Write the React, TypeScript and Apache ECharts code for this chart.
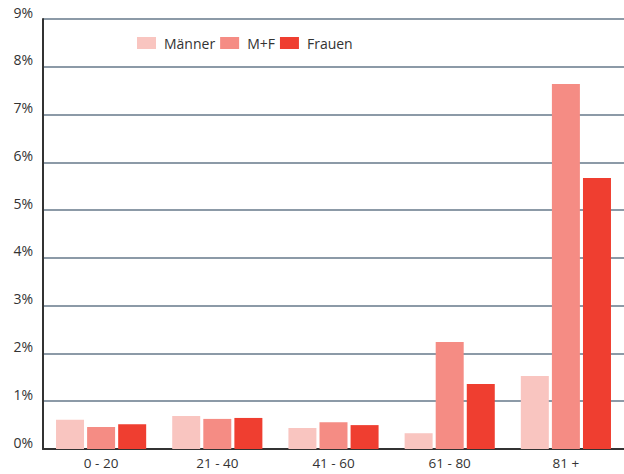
import React, { useEffect, useRef } from "react";
import * as echarts from "echarts";

const categories = ["0 - 20", "21 - 40", "41 - 60", "61 - 80", "81 +"];
const maenner = [0.61, 0.69, 0.44, 0.33, 1.53];
const mf = [0.46, 0.63, 0.56, 2.24, 7.64];
const frauen = [0.52, 0.65, 0.5, 1.36, 5.67];
const seriesNames = ["Männer", "M+F", "Frauen"];
const colors = ["#f9c5c0", "#f58c84", "#ef3e30"];

export default function App() {
  const ref = useRef<HTMLDivElement>(null);
  useEffect(() => {
    const chart = echarts.init(ref.current!, null, { renderer: "svg" });
    const font = "'Open Sans', 'Noto Sans', sans-serif";
    const data = [maenner, mf, frauen];
    chart.setOption({
      animation: false,
      textStyle: { fontFamily: font },
      grid: { left: 43, right: 0, top: 19, bottom: 25 },
      legend: {
        left: 132,
        top: 31,
        itemWidth: 19,
        itemHeight: 12,
        itemGap: 5,
        icon: "rect",
        data: seriesNames,
        textStyle: { fontFamily: font, fontSize: 14, color: "#333", padding: [0, 0, 0, 3] },
      },
      xAxis: {
        type: "category",
        data: categories,
        axisLine: { lineStyle: { color: "#333", width: 2 } },
        axisTick: { inside: true, length: 11, lineStyle: { color: "#333", width: 2 } },
        axisLabel: { color: "#333", fontSize: 13.5, margin: 7, fontFamily: font },
      },
      yAxis: {
        type: "value",
        min: 0,
        max: 9,
        interval: 1,
        axisLine: { show: true, lineStyle: { color: "#333", width: 2 } },
        axisTick: { show: false },
        splitLine: { lineStyle: { color: "#66798a", width: 1.5 } },
        axisLabel: {
          formatter: "{value}%",
          color: "#333",
          fontSize: 14,
          margin: 10,
          verticalAlign: "bottom",
          fontFamily: font,
        },
      },
      series: seriesNames.map((name, i) => ({
        name,
        type: "bar",
        data: data[i],
        barWidth: 28,
        barGap: "11%",
        itemStyle: { color: colors[i] },
      })),
    });
    return () => chart.dispose();
  }, []);
  return <div ref={ref} style={{ width: 624, height: 474, position: "absolute", left: 0, top: 0 }} />;
}
